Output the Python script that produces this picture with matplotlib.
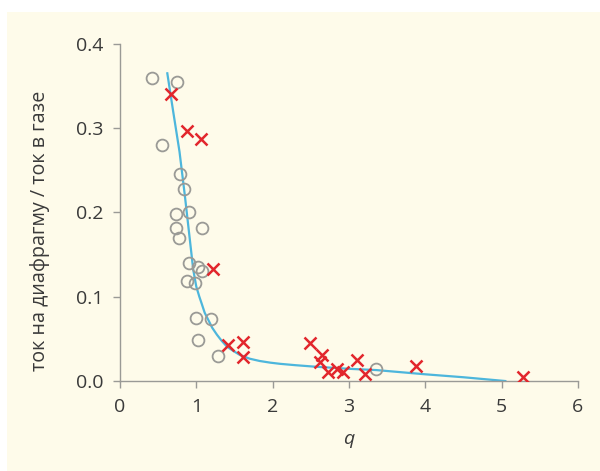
import matplotlib.pyplot as plt

# open circles (grey)
circ_q = [0.42, 0.75, 0.55, 0.79, 0.84, 0.73, 0.90, 0.73, 1.07, 0.77,
          0.90, 1.02, 1.07, 0.88, 0.98, 0.99, 1.19, 1.02, 1.28, 3.36]
circ_r = [0.360, 0.355, 0.280, 0.245, 0.228, 0.198, 0.200, 0.182, 0.182, 0.170,
          0.140, 0.135, 0.130, 0.119, 0.116, 0.075, 0.074, 0.049, 0.030, 0.014]

# red crosses
cross_q = [0.67, 0.88, 1.06, 1.22, 1.42, 1.61, 1.61, 2.49, 2.65, 2.62,
           2.73, 2.84, 2.92, 3.10, 3.21, 3.88, 5.28]
cross_r = [0.341, 0.297, 0.287, 0.133, 0.043, 0.046, 0.028, 0.045, 0.031, 0.023,
           0.011, 0.014, 0.011, 0.025, 0.008, 0.018, 0.005]

# fitted curve
curve_q = [0.62, 0.70, 0.78, 0.85, 0.90, 0.93, 0.96, 1.00, 1.04, 1.07, 1.11,
           1.16, 1.21, 1.27, 1.33, 1.40, 1.48, 1.57, 1.70, 1.83, 1.97, 2.10,
           2.30, 2.53, 3.00, 3.36, 4.00, 4.50, 5.05]
curve_r = [0.365, 0.318, 0.272, 0.220, 0.180, 0.156, 0.132, 0.112, 0.100, 0.092, 0.081,
           0.072, 0.063, 0.055, 0.048, 0.041, 0.036, 0.031, 0.0265, 0.0238, 0.0218, 0.0204,
           0.0188, 0.0172, 0.0145, 0.013, 0.008, 0.0045, 0.0]

plt.rcParams['font.family'] = ['Open Sans', 'DejaVu Sans']

fig = plt.figure(figsize=(6, 4.71), dpi=100, facecolor='white')

# cream panel behind the chart
bg = fig.add_axes([7 / 600, 0, 1, (471 - 12) / 471], zorder=-1)
bg.set_facecolor('#fefbea')
bg.set_xticks([])
bg.set_yticks([])
for s in bg.spines.values():
    s.set_visible(False)

ax = fig.add_axes([0.2, 0.191, 0.763, 0.716], zorder=1)
ax.set_facecolor('none')

ax.plot(curve_q, curve_r, color='#4db6dc', lw=1.6, zorder=2)
ax.plot(circ_q, circ_r, 'o', ms=8.5, mfc='none', mec='#9a9a96', mew=1.3, zorder=3)
ax.plot(cross_q, cross_r, 'x', ms=8.5, color='#e2262c', mew=1.8, zorder=4)

ax.set_xlim(0, 6)
ax.set_ylim(0, 0.4)
ax.set_xticks(range(7))
ax.set_yticks([0.0, 0.1, 0.2, 0.3, 0.4])
ax.set_yticklabels(['0.0', '0.1', '0.2', '0.3', '0.4'])

for side in ['top', 'right']:
    ax.spines[side].set_visible(False)
for side in ['left', 'bottom']:
    ax.spines[side].set_color('#9a9a96')
    ax.spines[side].set_linewidth(1.0)

ax.tick_params(direction='out', length=5, width=1.0, color='#9a9a96',
               labelsize=14, labelcolor='#3a3a3a')
ax.tick_params(axis='y', pad=7)
ax.tick_params(axis='x', pad=7)

ax.set_xlabel('q', fontsize=14, style='italic', color='#3a3a3a', labelpad=10)
ax.set_ylabel('ток на диафрагму / ток в газе', fontsize=14.2, color='#3a3a3a')
ax.yaxis.set_label_coords(-0.152, 0.445)

fig.savefig('out.png', dpi=100, facecolor=fig.get_facecolor())
